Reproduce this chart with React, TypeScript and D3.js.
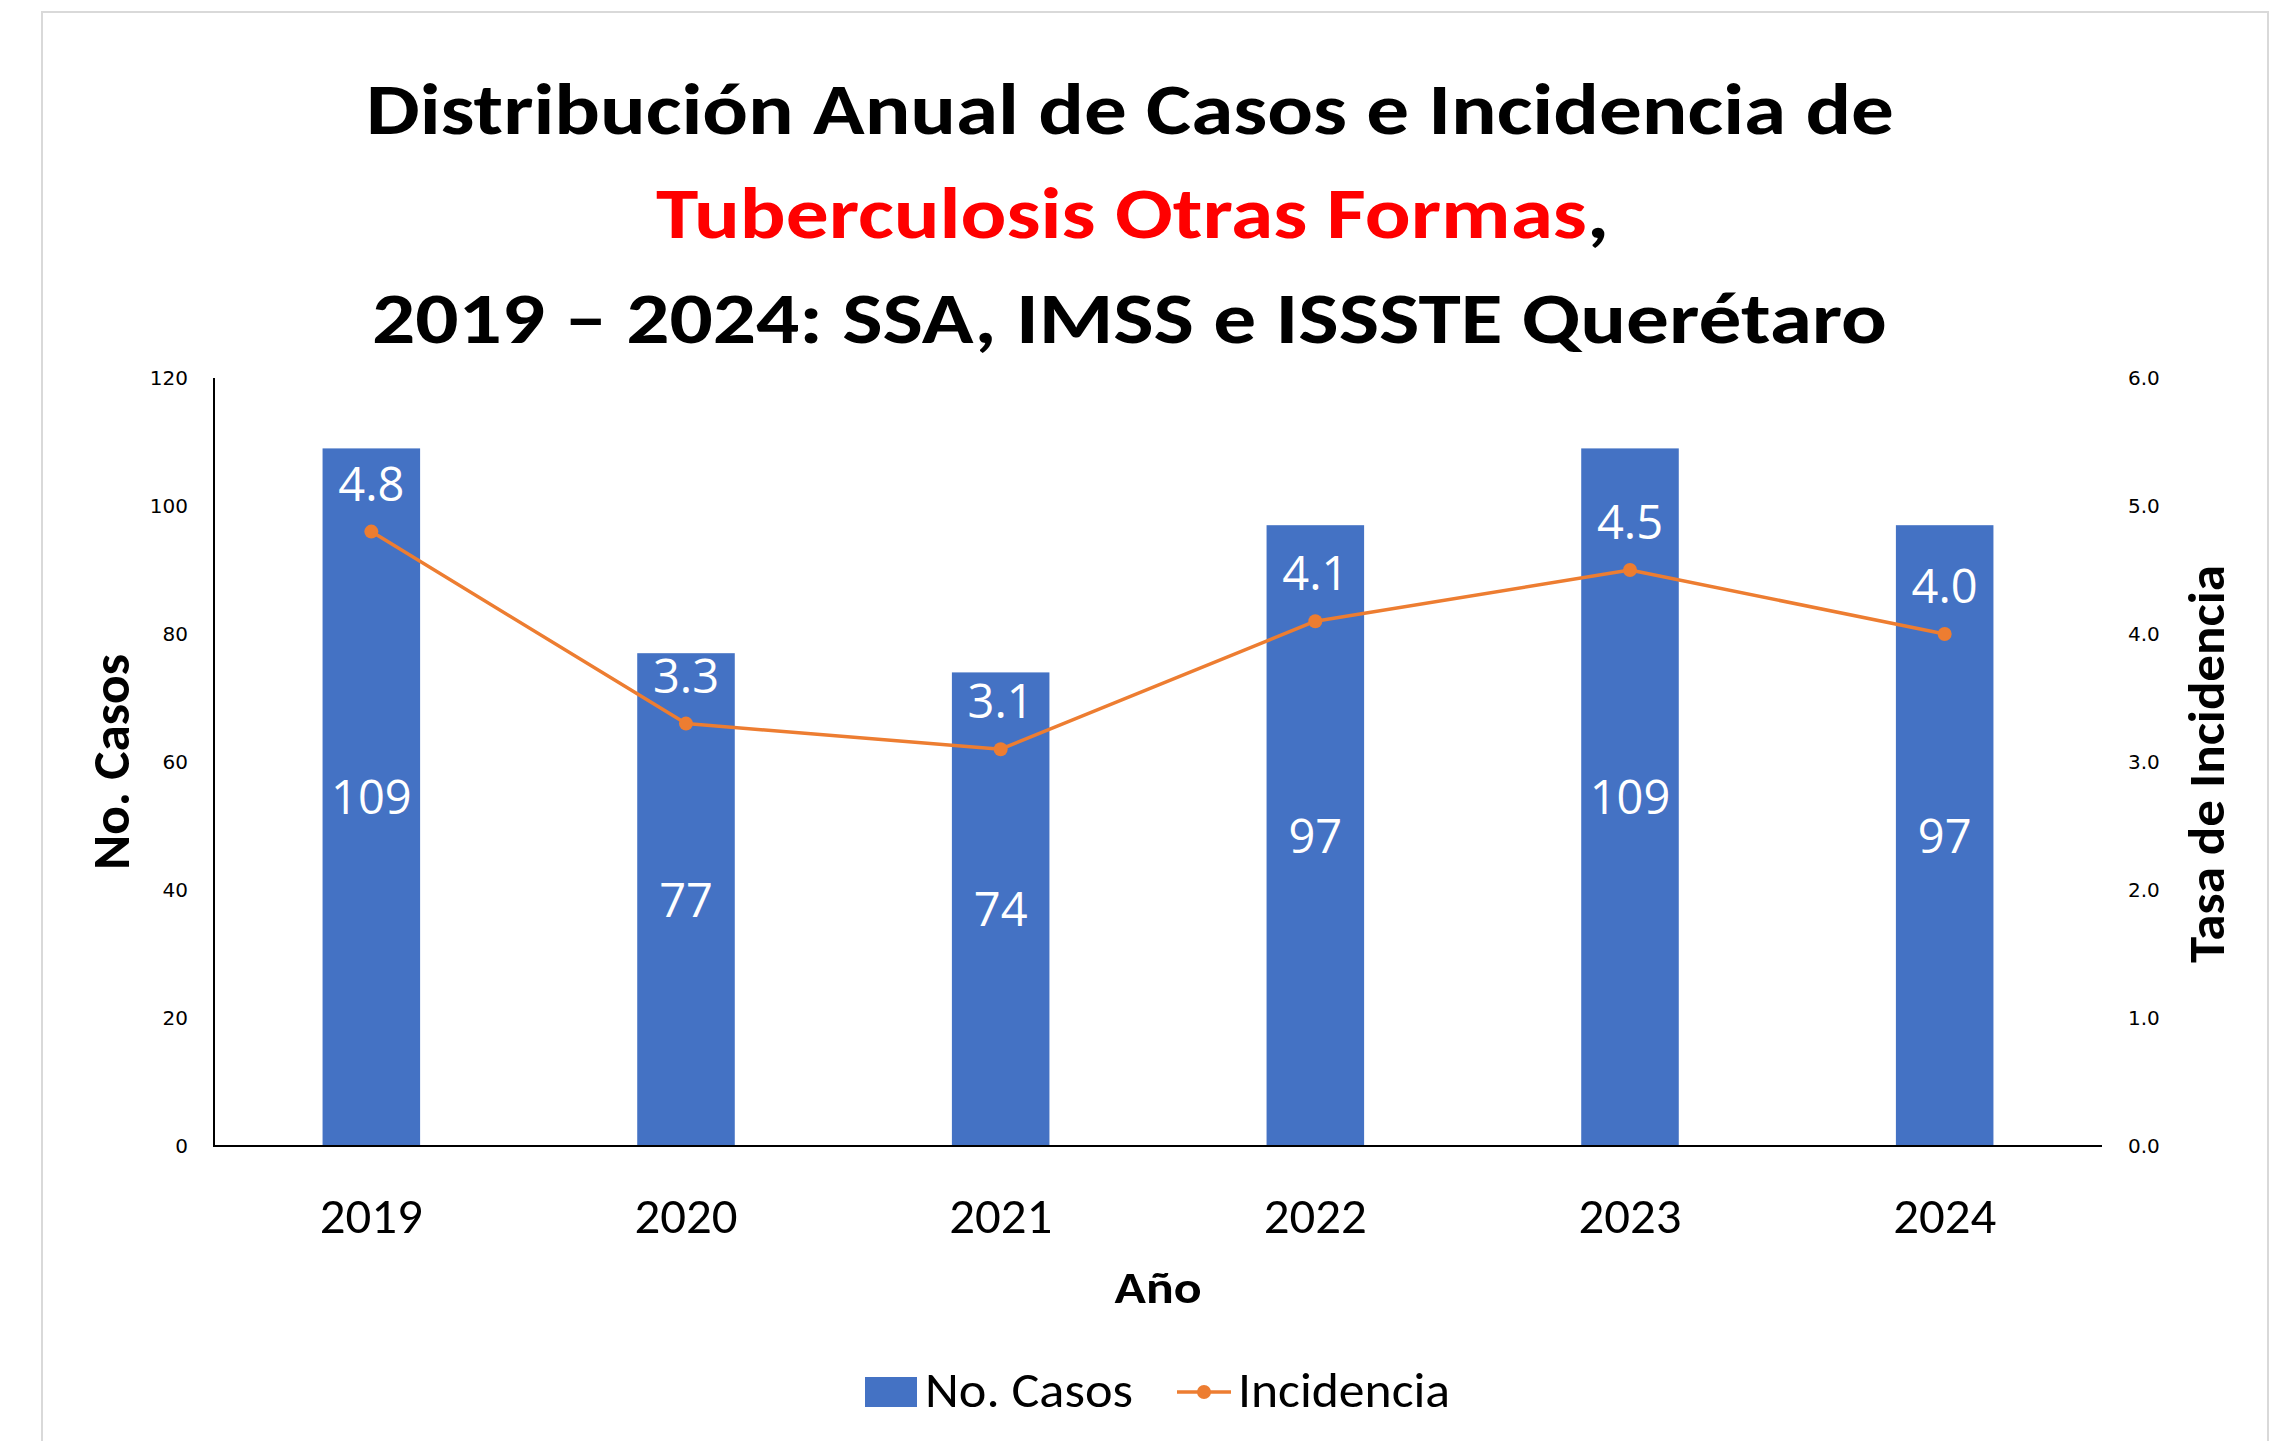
import React from "react";
import * as d3 from "d3";

const years = ["2019", "2020", "2021", "2022", "2023", "2024"];
const casos = [109, 77, 74, 97, 109, 97];
const incidencia = [4.8, 3.3, 3.1, 4.1, 4.5, 4.0];
const leftTicks = [0, 20, 40, 60, 80, 100, 120];
const rightTicks = [0, 1, 2, 3, 4, 5, 6];
const titleLine1 = "Distribución Anual de Casos e Incidencia de";
const titleLine2Red = "Tuberculosis Otras Formas";
const titleLine2Tail = ",";
const titleLine3 = "2019 – 2024: SSA, IMSS e ISSSTE Querétaro";

const W = 2280;
const H = 1441;
const TITLE_FONT = "Calibri, Carlito, Lato, sans-serif";
const TICK_FONT = "'DejaVu Sans', Verdana, sans-serif";
const LABEL_FONT = "'Open Sans', 'Noto Sans', sans-serif";
const BAR = "#4472C4";
const LINE = "#ED7D31";

export default function App() {
  const x = d3.scaleBand<string>().domain(years).range([214, 2102]).paddingInner(0.69).paddingOuter(0.345);
  const yL = d3.scaleLinear().domain([0, 120]).range([1146, 378]);
  const yR = d3.scaleLinear().domain([0, 6]).range([1146, 378]);
  const cx = (y: string) => (x(y) as number) + x.bandwidth() / 2;
  const line = d3
    .line<number>()
    .x((_, i) => cx(years[i]))
    .y((d) => yR(d));
  const fmt = d3.format(".1f");

  return (
    <svg
      width={W}
      height={H}
      style={{ position: "absolute", left: 0, top: 0, display: "block", background: "#fff" }}
    >
      <rect x={0} y={0} width={W} height={H} fill="#fff" />
      <rect x={42} y={12} width={2226} height={H + 20} fill="#fff" stroke="#d9d9d9" strokeWidth={2} />

      {/* Title */}
      <g fontFamily={TITLE_FONT} fontWeight="bold" fontSize={73} textAnchor="start">
        <text x={366} y={134} textLength={1528} lengthAdjust="spacingAndGlyphs" fill="#000">
          {titleLine1}
        </text>
        <text x={656} y={238} textLength={953} lengthAdjust="spacingAndGlyphs">
          <tspan fill="#FF0000">{titleLine2Red}</tspan>
          <tspan fill="#000">{titleLine2Tail}</tspan>
        </text>
        <text x={372} y={343} textLength={1515} lengthAdjust="spacingAndGlyphs" fill="#000">
          {titleLine3}
        </text>
      </g>

      {/* Bars */}
      {casos.map((v, i) => (
        <rect
          key={"b" + i}
          x={x(years[i])}
          y={yL(v)}
          width={x.bandwidth()}
          height={yL(0) - yL(v)}
          fill={BAR}
        />
      ))}

      {/* Axes lines */}
      <line x1={214} x2={214} y1={yL(120)} y2={yL(0)} stroke="#000" strokeWidth={2} />
      <line x1={213} x2={2102} y1={yL(0)} y2={yL(0)} stroke="#000" strokeWidth={2} />

      {/* Left ticks */}
      <g fontFamily={TICK_FONT} fontSize={20} fill="#000" textAnchor="end">
        {leftTicks.map((t) => (
          <text key={"l" + t} x={188} y={yL(t)} dy="0.36em">
            {t}
          </text>
        ))}
      </g>
      {/* Right ticks */}
      <g fontFamily={TICK_FONT} fontSize={20} fill="#000" textAnchor="start">
        {rightTicks.map((t) => (
          <text key={"r" + t} x={2128} y={yR(t)} dy="0.36em">
            {fmt(t)}
          </text>
        ))}
      </g>

      {/* X tick labels */}
      <g fontFamily={TITLE_FONT} fontSize={49} fill="#000" textAnchor="middle">
        {years.map((yv) => (
          <text key={"x" + yv} x={cx(yv)} y={1233} textLength={103} lengthAdjust="spacingAndGlyphs">
            {yv}
          </text>
        ))}
      </g>

      {/* Axis titles */}
      <text
        x={1158}
        y={1303}
        fontFamily={TITLE_FONT}
        fontWeight="bold"
        fontSize={45}
        textAnchor="middle"
        textLength={87}
        lengthAdjust="spacingAndGlyphs"
      >
        Año
      </text>
      <text
        transform={`translate(129,762) rotate(-90)`}
        fontFamily={TITLE_FONT}
        fontWeight="bold"
        fontSize={52}
        textAnchor="middle"
        textLength={216}
        lengthAdjust="spacingAndGlyphs"
      >
        No. Casos
      </text>
      <text
        transform={`translate(2224,764) rotate(-90)`}
        fontFamily={TITLE_FONT}
        fontWeight="bold"
        fontSize={51}
        textAnchor="middle"
        textLength={398}
        lengthAdjust="spacingAndGlyphs"
      >
        Tasa de Incidencia
      </text>

      {/* Line */}
      <path d={line(incidencia) || ""} fill="none" stroke={LINE} strokeWidth={3.5} strokeLinejoin="round" />
      {incidencia.map((v, i) => (
        <circle key={"c" + i} cx={cx(years[i])} cy={yR(v)} r={7} fill={LINE} />
      ))}

      {/* Data labels */}
      <g fontFamily={LABEL_FONT} fontSize={47} fill="#fff" textAnchor="middle">
        {casos.map((v, i) => (
          <text key={"vl" + i} x={cx(years[i])} y={(yL(v) + yL(0)) / 2} dy="0.36em">
            {v}
          </text>
        ))}
        {incidencia.map((v, i) => (
          <text key={"il" + i} x={cx(years[i])} y={yR(v) - 31}>
            {fmt(v)}
          </text>
        ))}
      </g>

      {/* Legend */}
      <rect x={865} y={1377} width={52} height={30} fill={BAR} />
      <text
        x={925}
        y={1407}
        fontFamily={TITLE_FONT}
        fontSize={50}
        textLength={208}
        lengthAdjust="spacingAndGlyphs"
      >
        No. Casos
      </text>
      <line x1={1177} x2={1231} y1={1392} y2={1392} stroke={LINE} strokeWidth={3.5} />
      <circle cx={1204} cy={1392} r={7} fill={LINE} />
      <text
        x={1238}
        y={1407}
        fontFamily={TITLE_FONT}
        fontSize={50}
        textLength={212}
        lengthAdjust="spacingAndGlyphs"
      >
        Incidencia
      </text>
    </svg>
  );
}
